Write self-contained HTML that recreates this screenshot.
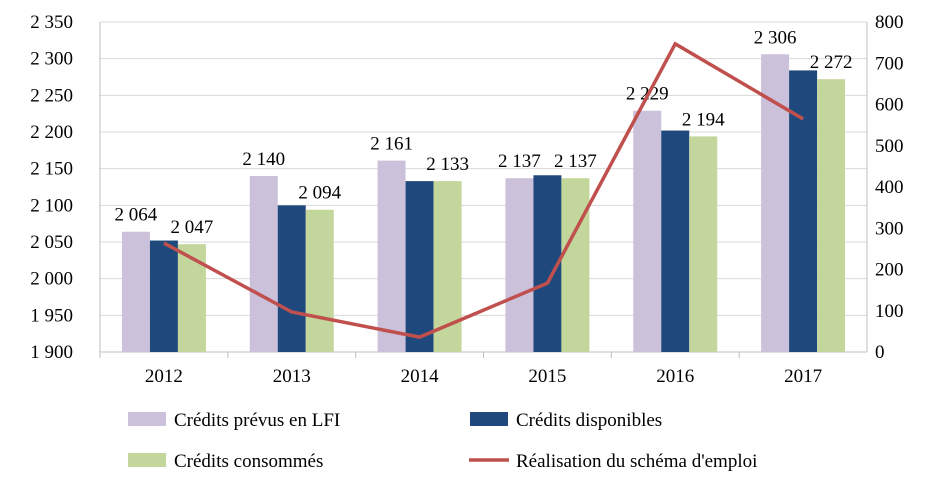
<!DOCTYPE html>
<html><head><meta charset="utf-8"><style>
body{margin:0;background:#fff}
svg text{font-family:"Liberation Serif",serif;fill:#000}
</style></head><body>
<svg id="c" width="930" height="491"></svg>
<script>
const categories=["2012","2013","2014","2015","2016","2017"];
const prevus=[2064,2140,2161,2137,2229,2306];
const disponibles=[2052,2100,2133,2141,2202,2284];
const consommes=[2047,2094,2133,2137,2194,2272];
const schema=[264,97,36,167,747,565];
const leftTicks=[1900,1950,2000,2050,2100,2150,2200,2250,2300,2350];
const rightTicks=[0,100,200,300,400,500,600,700,800];
const NS="http://www.w3.org/2000/svg";
const svg=document.getElementById('c');
const X0=100,X1=867,YT=22,YB=352;
const bw=(X1-X0)/categories.length;
const yL=v=>YB-(v-1900)/450*(YB-YT);
const yR=v=>YB-v/800*(YB-YT);
const xc=i=>X0+bw*(i+0.5);
function el(t,a,txt){const e=document.createElementNS(NS,t);for(const k in a)e.setAttribute(k,a[k]);if(txt!=null)e.textContent=txt;svg.appendChild(e);return e;}
leftTicks.forEach(v=>{
 const g=el('line',{x1:X0,x2:X1,y1:yL(v),y2:yL(v),stroke:'#d9d9d9','stroke-width':1});
 
 const t=el('text',{x:X0-27,y:yL(v)+6,'text-anchor':'end','font-size':19},String(v).replace(/(\d)(\d{3})$/,'$1 $2'));
 
});
rightTicks.forEach(v=>{
 const t=el('text',{x:X1+8,y:yR(v)+6,'font-size':19},String(v));
 
});
el('line',{x1:X0,x2:X0,y1:YT,y2:YB,stroke:'#bfbfbf'});
el('line',{x1:X1,x2:X1,y1:YT,y2:YB,stroke:'#bfbfbf'});
el('line',{x1:X0,x2:X1,y1:YB,y2:YB,stroke:'#bfbfbf'});
const w=28;
const series=[[prevus,'#ccc1da','bar-prevus'],[disponibles,'#1f497d','bar-disponibles'],[consommes,'#c3d69b','bar-consommes']];
categories.forEach((c,i)=>{
 el('line',{x1:X0+bw*i,x2:X0+bw*i,y1:YB,y2:YB+6,stroke:'#bfbfbf'});
 series.forEach((s,j)=>{
  const x=xc(i)-42+j*w,y=yL(s[0][i]);
  const r=el('rect',{x:x,y:y,width:w,height:YB-y,fill:s[1]});
  
  if(j!==1){const t=el('text',{x:x+w/2,y:y-11,'text-anchor':'middle','font-size':19},String(s[0][i]).replace(/(\d)(\d{3})$/,'$1 $2'));
   }
 });
 const t=el('text',{x:xc(i),y:YB+30,'text-anchor':'middle','font-size':19},c);
 
});
const pl=el('polyline',{points:schema.map((v,i)=>xc(i)+','+yR(v)).join(' '),fill:'none',stroke:'#c0504d','stroke-width':3.5});

const leg=[[128,420,'Crédits prévus en LFI','#ccc1da','r'],[470,420,'Crédits disponibles','#1f497d','r'],[128,461,'Crédits consommés','#c3d69b','r'],[470,461,"Réalisation du schéma d'emploi",'#c0504d','l']];
leg.forEach(l=>{
 if(l[4]==='r')el('rect',{x:l[0],y:l[1]-8,width:38,height:14,fill:l[3]});
 else el('line',{x1:l[0]-1,x2:l[0]+39,y1:l[1]-1,y2:l[1]-1,stroke:l[3],'stroke-width':3.5});
 const t=el('text',{x:l[0]+46,y:l[1]+6,'font-size':19},l[2]);
 
});
</script>
</body></html>
